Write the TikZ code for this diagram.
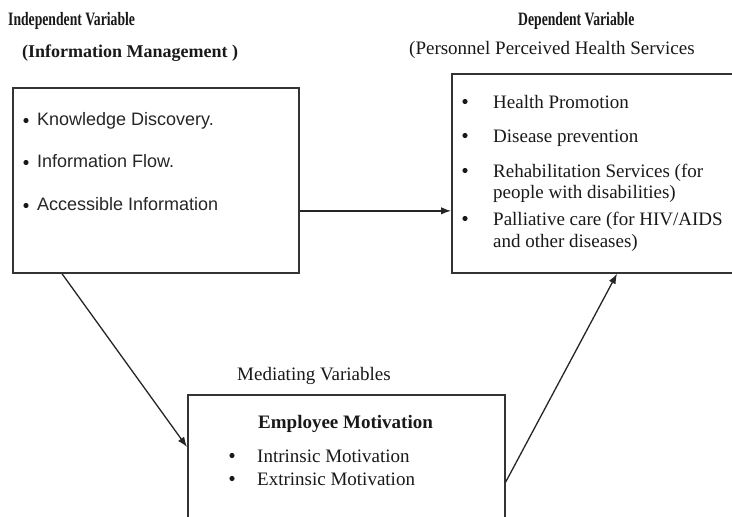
\documentclass[tikz,border=0pt]{standalone}
\usepackage{fontspec}
\setmainfont{Liberation Serif}
\newfontfamily\arialfont{Liberation Sans}
\usetikzlibrary{arrows.meta}
\tikzset{
  box/.style={draw=black!80, line width=1.7pt, rectangle, anchor=north west, inner sep=0pt},
  arr/.style={draw=black!85, line width=1.3pt, -{Latex[length=10pt,width=7.5pt]}},
  txt/.style={inner sep=0pt, anchor=base west, font=\fontsize{19}{21}\selectfont, text=black!90},
  sans/.style={inner sep=0pt, anchor=base west, font=\arialfont\fontsize{18}{20}\selectfont, text=black!85},
  head/.style={inner sep=0pt, anchor=base west, font=\bfseries\fontsize{18}{20}\selectfont, text=black!90},
  dot/.style={circle, fill=black!90, inner sep=0pt, minimum size=5.2pt}
}
\begin{document}
\begin{tikzpicture}[x=1pt,y=-1pt]
\useasboundingbox (0,0) rectangle (732,517);
\clip (0,0) rectangle (732,517);
\fill[white] (0,0) rectangle (732,517);

% headings
\node[head] (hind) at (8,25) {\scalebox{0.76}[1.05]{Independent Variable}};
\node[head] (hinfo) at (22,57) {(Information Management )};
\node[head] (hdep) at (518,25) {\scalebox{0.76}[1.05]{Dependent Variable}};
\node[txt] (hpers) at (409,54) {(Personnel Perceived Health Services};

% boxes
\node[box, minimum width=286pt, minimum height=185pt] (ind) at (12,87) {};
\node[box, minimum width=300pt, minimum height=199pt] (dep) at (451,73) {};
\node[box, minimum width=317pt, minimum height=170pt] (med) at (187,394) {};

% left box items
\node[dot] (b1) at (26,120.5) {};
\node[sans] (i1) at (37,125) {Knowledge Discovery.};
\node[dot] (b2) at (26,162.5) {};
\node[sans] (i2) at (37,167) {Information Flow.};
\node[dot] (b3) at (26,205.5) {};
\node[sans] (i3) at (37,210) {Accessible Information};

% right box items
\node[dot] (d1b) at (465,101.5) {};
\node[txt] (d1) at (493,108) {Health Promotion};
\node[dot] (d2b) at (465,135.5) {};
\node[txt] (d2) at (493,142) {Disease prevention};
\node[dot] (d3b) at (465,170.5) {};
\node[txt] (d3) at (493,177) {Rehabilitation Services (for};
\node[txt] (d3c) at (493,198) {people with disabilities)};
\node[dot] (d4b) at (465,218.5) {};
\node[txt] (d4) at (493,225) {Palliative care (for HIV/AIDS};
\node[txt] (d4c) at (493,247) {and other diseases)};

% mediating
\node[txt] (hmed) at (237,380) {Mediating Variables};
\node[txt, font=\bfseries\fontsize{19}{21}\selectfont] (emot) at (258,428) {Employee Motivation};
\node[dot] (m1b) at (232,455.5) {};
\node[txt] (m1) at (257,462) {Intrinsic Motivation};
\node[dot] (m2b) at (232,478.5) {};
\node[txt] (m2) at (257,485) {Extrinsic Motivation};

% connectors
\path (ind.east) ++(0,30.5) coordinate (a1);
\draw[arr] (a1) -- (a1 -| dep.west);
\path (ind.south west) ++(50,0) coordinate (a2s);
\path (med.north west) ++(0,53) coordinate (a2e);
\draw[arr] (a2s) -- (a2e);
\path (med.north east) ++(0,88) coordinate (a3s);
\path (dep.south west) ++(166,0) coordinate (a3e);
\draw[arr] (a3s) -- (a3e);
\end{tikzpicture}
\end{document}
